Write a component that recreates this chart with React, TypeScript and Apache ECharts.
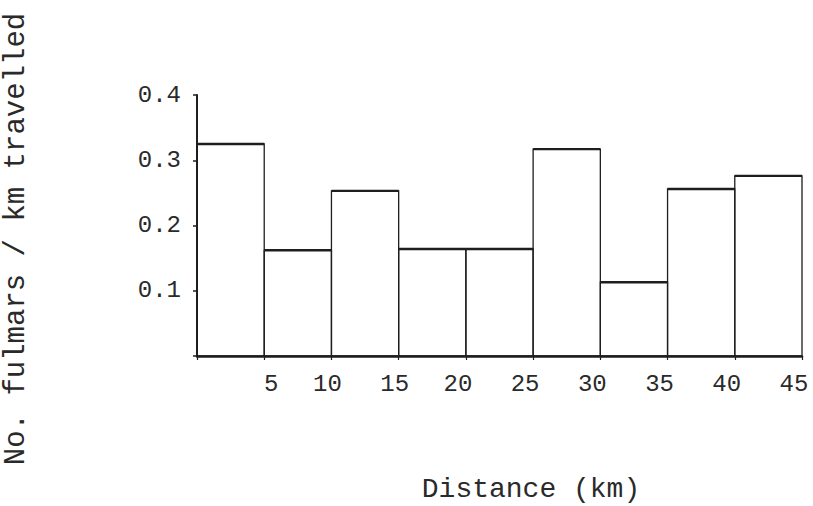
import React, { useEffect, useRef } from "react";
import * as echarts from "echarts";

// Distance bins (km) along the transect
const binStarts = [0, 5, 10, 15, 20, 25, 30, 35, 40];
const binEnds = [5, 10, 15, 20, 25, 30, 35, 40, 45];
// Fulmars counted per km travelled in each bin
const fulmarRate = [0.325, 0.162, 0.253, 0.164, 0.164, 0.317, 0.113, 0.256, 0.276];

const xTicks = [5, 10, 15, 20, 25, 30, 35, 40, 45];
const yTicks = [0.1, 0.2, 0.3, 0.4];

const FONT = "'Liberation Mono', 'DejaVu Sans Mono', monospace";
const INK = "#1e1e1e";
const LABEL = "#2a2a2a";

// typewritten tick labels sit slightly off their ticks
const labelStyle = (v: number) => (v === 5 ? "r" : v < 20 ? "m" : "l");

export default function App() {
  const ref = useRef<HTMLDivElement>(null);

  useEffect(() => {
    if (!ref.current) return;
    const chart = echarts.init(ref.current, null, { renderer: "svg" });

    const data = binStarts.map((s, i) => [s, binEnds[i], fulmarRate[i]]);
    const tickFont = { color: LABEL, fontFamily: FONT, fontSize: 24 };

    chart.setOption({
      animation: false,
      backgroundColor: "#ffffff",
      grid: { left: 197, right: 11, top: 95, bottom: 150, outerBoundsMode: "none" },
      xAxis: {
        type: "value",
        min: 0,
        max: 45,
        interval: 5,
        splitLine: { show: false },
        axisLine: { lineStyle: { color: INK, width: 2.5 } },
        axisTick: { length: 4, lineStyle: { color: INK, width: 1.2 } },
        axisLabel: {
          ...tickFont,
          margin: 16,
          formatter: (v: number) =>
            xTicks.includes(v) ? `{${labelStyle(v)}|${v}}` : "",
          rich: {
            r: { ...tickFont, padding: [0, 0, 0, 14] },
            m: { ...tickFont, padding: [0, 8, 0, 0] },
            l: { ...tickFont, padding: [0, 16, 0, 0] },
          },
        },
      },
      yAxis: {
        type: "value",
        min: 0,
        max: 0.4,
        interval: 0.1,
        splitLine: { show: false },
        axisLine: { show: true, lineStyle: { color: INK, width: 2 } },
        axisTick: { show: true, length: 4, lineStyle: { color: INK, width: 1.5 } },
        axisLabel: {
          ...tickFont,
          margin: 16,
          formatter: (v: number) => {
            const t = yTicks.find((y) => Math.abs(y - v) < 1e-6);
            return t === undefined ? "" : t.toFixed(1);
          },
        },
      },
      series: [
        {
          type: "custom",
          data,
          encode: { x: [0, 1], y: 2 },
          renderItem: (_params: any, api: any) => {
            const s = api.value(0);
            const e = api.value(1);
            const v = api.value(2);
            const p0 = api.coord([s, 0]);
            const p1 = api.coord([e, v]);
            return {
              type: "group",
              children: [
                {
                  type: "rect",
                  shape: { x: p0[0], y: p1[1], width: p1[0] - p0[0], height: p0[1] - p1[1] },
                  style: { fill: "none", stroke: INK, lineWidth: 1.3 },
                },
                {
                  type: "line",
                  shape: { x1: p0[0], y1: p1[1], x2: p1[0], y2: p1[1] },
                  style: { stroke: INK, lineWidth: 2.4 },
                },
              ],
            };
          },
        },
      ],
      graphic: [
        {
          type: "text",
          x: 16,
          y: 239,
          rotation: Math.PI / 2,
          style: {
            text: "No. fulmars / km travelled",
            fontFamily: FONT,
            fontSize: 29,
            fill: LABEL,
            align: "center",
            verticalAlign: "middle",
          },
        },
        {
          type: "text",
          x: 531,
          y: 489,
          style: {
            text: "Distance (km)",
            fontFamily: FONT,
            fontSize: 28,
            fill: LABEL,
            align: "center",
            verticalAlign: "middle",
          },
        },
      ],
    });

    return () => chart.dispose();
  }, []);

  return <div ref={ref} style={{ width: 813, height: 506, position: "absolute", left: 0, top: 0 }} />;
}
